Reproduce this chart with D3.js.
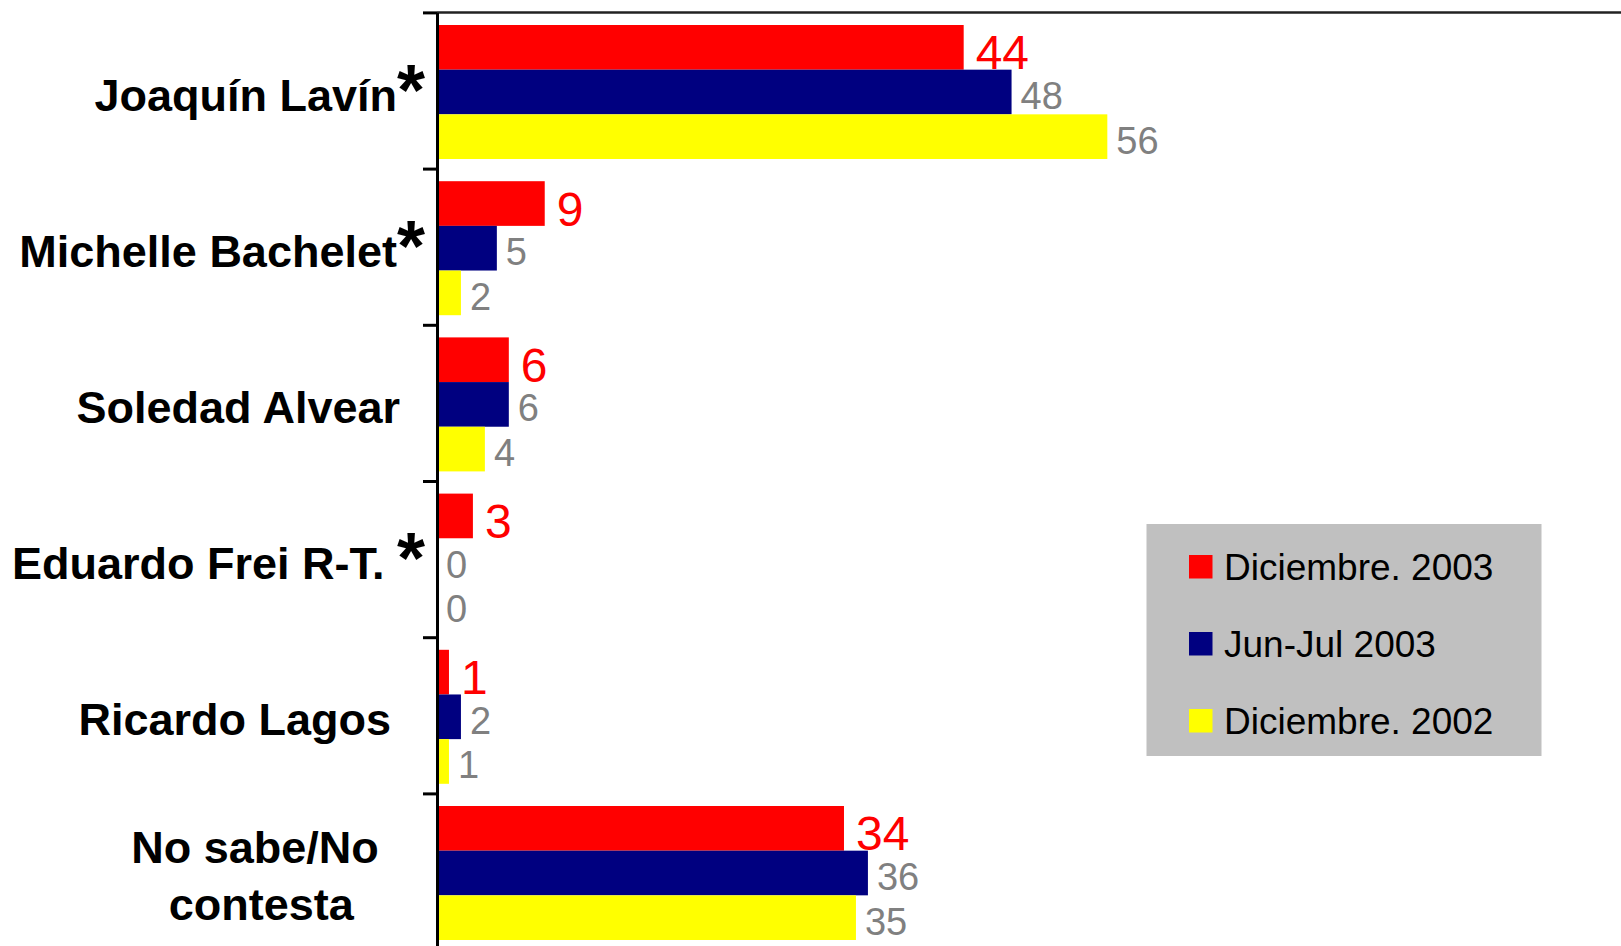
<!DOCTYPE html>
<html>
<head>
<meta charset="utf-8">
<script src="https://cdn.jsdelivr.net/npm/d3@7"></script>
<style>
    html, body { margin: 0; padding: 0; background: #fff; overflow: hidden; }
    svg { display: block; font-family: Arial, "Liberation Sans", sans-serif; }
</style>
</head>
<body>
<div id="chart"></div>
<script>
// data
const categories = ['Joaquín Lavín', 'Michelle Bachelet', 'Soledad Alvear', 'Eduardo Frei R-T.', 'Ricardo Lagos', 'No sabe/No contesta'];
const starred = [true, true, false, true, false, false];
const seriesNames = ['Diciembre. 2003', 'Jun-Jul 2003', 'Diciembre. 2002'];
const dic2003 = [44, 9, 6, 3, 1, 34];
const junJul2003 = [48, 5, 6, 0, 2, 36];
const dic2002 = [56, 2, 4, 0, 1, 35];

const COLORS = ['#ff0000', '#000080', '#ffff00'];
const W = 1621, H = 946;
const AXIS_X = 437, TOP = 12.4, BAND = 156.2;

const series = [dic2003, junJul2003, dic2002];

const svg = d3.select('#chart').append('svg')
    .attr('width', W)
    .attr('height', H);

const x = d3.scaleLinear().domain([0, 100]).range([AXIS_X, AXIS_X + 1197]);
const y0 = d3.scaleBand().domain(categories).range([TOP, TOP + BAND * categories.length]);
const y1 = d3.scaleBand().domain(seriesNames).range([12.6, 12.6 + 134]);
const yIdx = d3.scaleLinear().domain([0, categories.length]).range([TOP, TOP + BAND * categories.length]);

// bars
const rows = [];
categories.forEach((c, i) => {
    seriesNames.forEach((s, j) => {
        rows.push({ cat: c, ser: s, j: j, value: series[j][i] });
    });
});

svg.append('g')
    .selectAll('rect')
    .data(rows)
    .join('rect')
    .attr('x', x(0))
    .attr('y', d => y0(d.cat) + y1(d.ser))
    .attr('width', d => x(d.value) - x(0))
    .attr('height', y1.bandwidth())
    .attr('fill', d => COLORS[d.j]);

// value labels
svg.append('g')
    .selectAll('text')
    .data(rows)
    .join('text')
    .attr('x', d => x(d.value) + (d.j === 0 ? 12 : 9))
    .attr('y', d => y0(d.cat) + y1(d.ser) + y1.bandwidth() / 2 + (d.j === 0 ? 22 : 17))
    .attr('font-size', d => d.j === 0 ? 48 : 38)
    .attr('fill', d => d.j === 0 ? '#ff0000' : '#808080')
    .text(d => d.value);

// top border
svg.append('line')
    .attr('x1', AXIS_X).attr('x2', W)
    .attr('y1', TOP).attr('y2', TOP)
    .attr('stroke', '#222')
    .attr('stroke-width', 2.5);

// category axis, ticks at band boundaries
const axis = svg.append('g')
    .attr('transform', `translate(${AXIS_X},0)`)
    .call(d3.axisLeft(yIdx)
        .tickValues(d3.range(categories.length + 1))
        .tickSize(14)
        .tickSizeOuter(0)
        .tickFormat(''));
axis.selectAll('path, line')
    .attr('stroke', '#000')
    .attr('stroke-width', 3);

// category labels
const labels = svg.append('g')
    .attr('font-weight', 'bold')
    .attr('font-size', 45)
    .attr('fill', '#000');

categories.forEach((c, i) => {
    const mid = y0(c) + y0.bandwidth() / 2;
    if (c === 'No sabe/No contesta') {
        const t = labels.append('text')
            .attr('x', 255)
            .attr('text-anchor', 'middle');
        t.append('tspan').attr('x', 255).attr('y', mid - 8.5).text('No sabe/No');
        t.append('tspan').attr('x', 255).attr('y', mid + 48.5).text('\u00a0contesta');
        return;
    }
    const t = labels.append('text')
        .attr('x', 425)
        .attr('y', mid + 20)
        .attr('text-anchor', 'end');
    if (starred[i]) {
        // Frei's label has a gap before the star
        t.append('tspan').text(c.endsWith('.') ? c + '\u00a0' : c);
        t.append('tspan')
            .attr('font-size', 72)
            .attr('dy', 4)
            .text('*');
    } else {
        const pad = c === 'Ricardo Lagos' ? '\u00a0\u00a0\u2009' : '\u00a0\u00a0';
        t.text(c + pad);
    }
});

// legend
const legend = svg.append('g').attr('transform', 'translate(1146.5,524)');
legend.append('rect')
    .attr('width', 395)
    .attr('height', 232)
    .attr('fill', '#c0c0c0');

const item = legend.selectAll('g.item')
    .data(seriesNames)
    .join('g')
    .attr('class', 'item')
    .attr('transform', (d, i) => `translate(0,${31 + i * 77})`);

item.append('rect')
    .attr('x', 42.5)
    .attr('width', 23.5)
    .attr('height', 23.5)
    .attr('fill', (d, i) => COLORS[i]);

item.append('text')
    .attr('x', 77.5)
    .attr('y', 25)
    .attr('font-size', 37)
    .attr('fill', '#000')
    .text(d => d);
</script>
</body>
</html>
